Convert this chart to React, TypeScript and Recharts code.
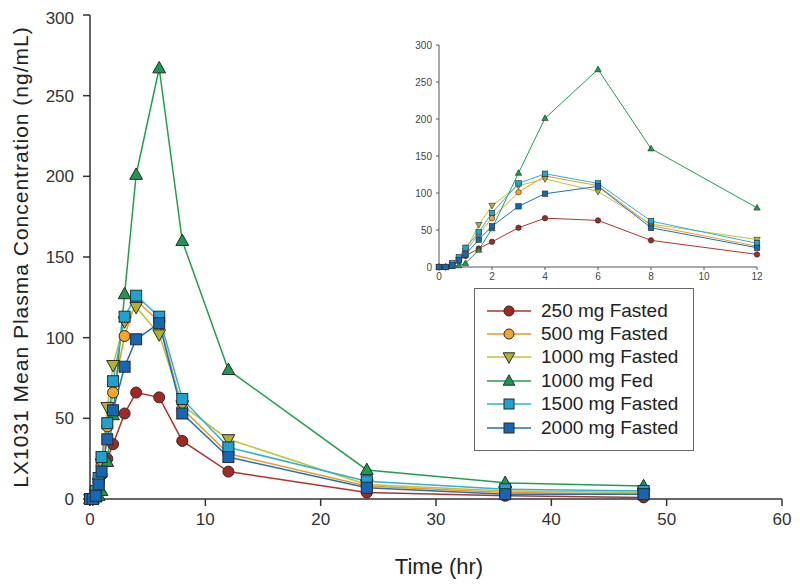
import React from "react";
import { LineChart, Line, XAxis, YAxis, Legend, Label } from "recharts";

const times = [0, 0.25, 0.5, 0.75, 1, 1.5, 2, 3, 4, 6, 8, 12, 24, 36, 48];
const s250 = [0, 0, 2, 8, 15, 25, 34, 53, 66, 63, 36, 17, 4, 2, 1];
const s500 = [0, 0, 3, 10, 21, 45, 66, 101, 123, 110, 56, 28, 8, 4, 3];
const s1000 = [0, 0, 3, 10, 22, 57, 83, 110, 119, 102, 58, 37, 9, 5, 4];
const s1000fed = [0, 0, 1, 2, 5, 23, 52, 127, 201, 267, 160, 80, 18, 10, 8];
const s1500 = [0, 0, 5, 13, 26, 47, 73, 113, 126, 113, 62, 32, 11, 6, 5];
const s2000 = [0, 0, 2, 9, 17, 37, 55, 82, 99, 109, 53, 26, 7, 3, 3];

const xTicksMain = [0, 10, 20, 30, 40, 50, 60];
const yTicks = [0, 50, 100, 150, 200, 250, 300];
const xTicksInset = [0, 2, 4, 6, 8, 10, 12];

const FONT = "'Liberation Sans', Arial, Helvetica, sans-serif";

type Shape = "circle" | "triDown" | "triUp" | "square";
const seriesDefs: { key: string; name: string; line: string; fill: string; shape: Shape; values: number[] }[] = [
  { key: "s250", name: "250 mg Fasted", line: "#b3322b", fill: "#a3281f", shape: "circle", values: s250 },
  { key: "s500", name: "500 mg Fasted", line: "#f7961e", fill: "#f7a52a", shape: "circle", values: s500 },
  { key: "s1000", name: "1000 mg Fasted", line: "#c4c236", fill: "#b3b02c", shape: "triDown", values: s1000 },
  { key: "s1000fed", name: "1000 mg Fed", line: "#1fa050", fill: "#1a9a4a", shape: "triUp", values: s1000fed },
  { key: "s1500", name: "1500 mg Fasted", line: "#2bb0e2", fill: "#1ea2d4", shape: "square", values: s1500 },
  { key: "s2000", name: "2000 mg Fasted", line: "#1e70c2", fill: "#1566b5", shape: "square", values: s2000 },
];

const mainData = times.map((t, i) => {
  const row: Record<string, number> = { t };
  seriesDefs.forEach((s) => (row[s.key] = s.values[i]));
  return row;
});
const insetData = mainData.filter((r) => r.t <= 12);

function Marker({ shape, cx, cy, size, fill, stroke, sw }: { shape: Shape; cx: number; cy: number; size: number; fill: string; stroke: string; sw: number }) {
  const h = size / 2;
  if (shape === "circle") return <circle cx={cx} cy={cy} r={h} fill={fill} stroke={stroke} strokeWidth={sw} />;
  if (shape === "square") return <rect x={cx - h} y={cy - h} width={size} height={size} fill={fill} stroke={stroke} strokeWidth={sw} />;
  if (shape === "triUp")
    return (
      <polygon
        points={`${cx},${cy - size * 0.62} ${cx - size * 0.58},${cy + size * 0.42} ${cx + size * 0.58},${cy + size * 0.42}`}
        fill={fill}
        stroke={stroke}
        strokeWidth={sw}
      />
    );
  return (
    <polygon
      points={`${cx},${cy + size * 0.62} ${cx - size * 0.58},${cy - size * 0.42} ${cx + size * 0.58},${cy - size * 0.42}`}
      fill={fill}
      stroke={stroke}
      strokeWidth={sw}
    />
  );
}

const makeDot = (s: (typeof seriesDefs)[number], size: number, sw: number) => (p: any) => {
  if (p.cx == null || p.cy == null) return <g key={`${s.key}-${p.index}`} />;
  return (
    <g key={`${s.key}-${p.index}`}>
      <Marker shape={s.shape} cx={p.cx} cy={p.cy} size={size} fill={s.fill} stroke="#2a2a2a" sw={sw} />
    </g>
  );
};

const LegendBox = () => (
  <div
    style={{
      width: 220,
      height: 163,
      border: "1px solid #666",
      background: "#fff",
      boxSizing: "border-box",
      paddingTop: 10,
      fontFamily: FONT,
    }}
  >
    {seriesDefs.map((s) => (
      <div key={s.key} style={{ display: "flex", alignItems: "center", height: 23.4 }}>
        <svg width={66} height={20} style={{ display: "block" }}>
          <line x1={12} y1={10} x2={56} y2={10} stroke={s.line} strokeWidth={1.5} />
          <Marker shape={s.shape} cx={34} cy={10} size={10} fill={s.fill} stroke="#2a2a2a" sw={1} />
        </svg>
        <span style={{ fontSize: 19, color: "#222", lineHeight: "20px" }}>{s.name}</span>
      </div>
    ))}
  </div>
);

export default function App() {
  return (
    <div style={{ position: "relative", width: 792, height: 576, background: "#fff" }}>
      <LineChart width={792} height={576} data={mainData} margin={{ top: 7, right: 18, left: 0, bottom: 0 }}>
        <XAxis
          dataKey="t"
          type="number"
          domain={[0, 60]}
          ticks={xTicksMain}
          height={85}
          stroke="#333"
          strokeWidth={1.5}
          tickSize={7}
          tickMargin={7}
          tick={{ fontSize: 17, fill: "#333", fontFamily: FONT }}
        >
          <Label
            content={() => (
              <text x={431} y={566} textAnchor="middle" fontSize={22} fill="#222" fontFamily={FONT}>
                Time (hr)
              </text>
            )}
          />
        </XAxis>
        <YAxis
          type="number"
          domain={[0, 300]}
          ticks={yTicks}
          width={82}
          stroke="#333"
          strokeWidth={1.5}
          tickSize={7}
          tickMargin={9}
          tick={{ fontSize: 17, fill: "#333", fontFamily: FONT }}
        >
          <Label
            content={() => (
              <text
                x={20}
                y={249}
                transform="rotate(-90 20 249)"
                textAnchor="middle"
                fontSize={21}
                letterSpacing={1}
                fill="#222"
                fontFamily={FONT}
              >
                LX1031 Mean Plasma Concentration (ng/mL)
              </text>
            )}
          />
        </YAxis>
        <Legend
          layout="horizontal"
          verticalAlign="middle"
          align="center"
          content={() => <LegendBox />}
          wrapperStyle={{ position: "absolute", left: 466, top: 280, width: 220, height: 163 }}
        />
        {seriesDefs.map((s) => (
          <Line
            key={s.key}
            dataKey={s.key}
            name={s.name}
            stroke={s.line}
            strokeWidth={1.5}
            dot={makeDot(s, 11, 1)}
            activeDot={false}
            isAnimationActive={false}
          />
        ))}
      </LineChart>
      <div style={{ position: "absolute", left: 392, top: 22 }}>
        <LineChart width={370} height={265} data={insetData} margin={{ top: 15, right: 13, left: 0, bottom: 0 }}>
          <XAxis
            dataKey="t"
            type="number"
            domain={[0, 12]}
            ticks={xTicksInset}
            height={28}
            stroke="#555"
            tickSize={3}
            tickMargin={3}
            tick={{ fontSize: 10, fill: "#444", fontFamily: FONT }}
          />
          <YAxis
            type="number"
            domain={[0, 300]}
            ticks={yTicks}
            width={39}
            stroke="#555"
            tickSize={3}
            tickMargin={4}
            tick={{ fontSize: 10, fill: "#444", fontFamily: FONT }}
          />
          {seriesDefs.map((s) => (
            <Line
              key={s.key}
              dataKey={s.key}
              name={s.name}
              stroke={s.line}
              strokeWidth={1}
              dot={makeDot(s, 5.5, 0.6)}
              activeDot={false}
              isAnimationActive={false}
            />
          ))}
        </LineChart>
      </div>
    </div>
  );
}
